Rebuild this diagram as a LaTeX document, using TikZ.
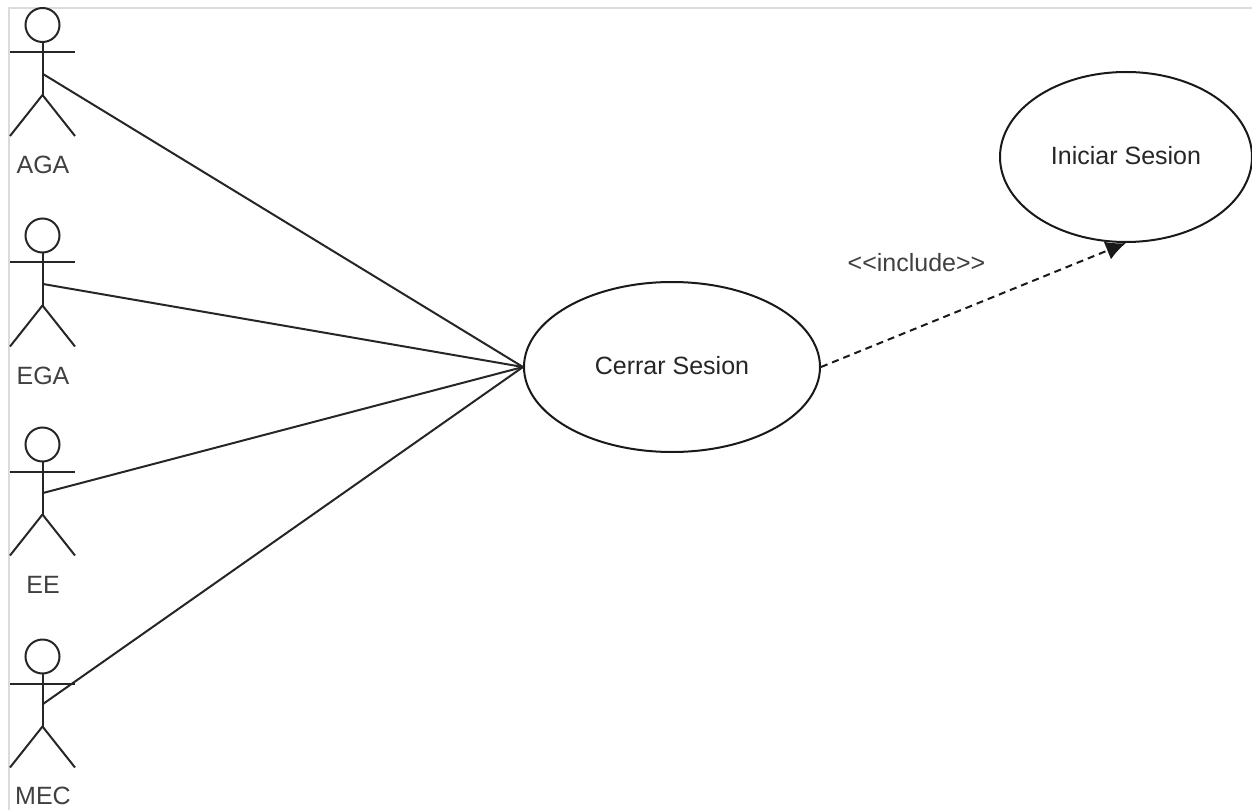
\documentclass[tikz,border=0pt]{standalone}
\usepackage{fontspec}
\setmainfont{Liberation Sans}
\usetikzlibrary{arrows.meta,shapes.geometric}
\tikzset{
  uc/.style={draw=black!90,line width=2pt,ellipse,fill=white,inner sep=0pt,text=black!85,text height=14.5pt,text depth=0pt,font=\fontsize{25}{30}\selectfont},
  lbl/.style={text=black!75,inner sep=0pt,font=\fontsize{25}{30}\selectfont},
  stick/.style={draw=black!85,line width=2pt},
  assoc/.style={draw=black!85,line width=2pt},
  incl/.style={draw=black!90,line width=2pt,dash pattern=on 7pt off 5pt,-{Latex[length=20pt,width=19pt]}},
  frame/.style={draw=black!14,line width=1.6pt},
  pics/actor/.style args={#1/#2}{code={
    \draw[stick] (42.5,25) circle[radius=17];
    \draw[stick] (10,52) -- (75,52);
    \draw[stick] (42.5,42) -- (42.5,95);
    \draw[stick] (10,136) -- (42.5,95) -- (75,136);
    \node[lbl] at (43,#2) {#1};
  }}
}
\begin{document}
\begin{tikzpicture}[x=1pt,y=-1pt]
\useasboundingbox (0,0) rectangle (1252,810);
\coordinate (fa) at (9,810);
\coordinate (fb) at (9,8);
\coordinate (fc) at (1252,8);
\draw[frame] (fa) -- (fb) -- (fc);
\node[uc,minimum width=296pt,minimum height=170pt] (cerrar) at (672,367) {Cerrar Sesion};
\node[uc,minimum width=252pt,minimum height=170pt] (iniciar) at (1126,157) {Iniciar Sesion};
\pic at (0,0) {actor=AGA/165};
\pic at (0,210.5) {actor=EGA/165.5};
\pic at (0,419.5) {actor=EE/165.5};
\pic at (0,631.5) {actor=MEC/164.5};
\coordinate (a1) at (43,74);
\coordinate (a2) at (43,284);
\coordinate (a3) at (43,493);
\coordinate (a4) at (43,704);
\draw[assoc] (a1) -- (cerrar.west);
\draw[assoc] (a2) -- (cerrar.west);
\draw[assoc] (a3) -- (cerrar.west);
\draw[assoc] (a4) -- (cerrar.west);
\draw[incl] (cerrar.east) -- (iniciar.south);
\node[lbl] (inc) at (916.5,263) {<{}<include>{}>};
\end{tikzpicture}
\end{document}
